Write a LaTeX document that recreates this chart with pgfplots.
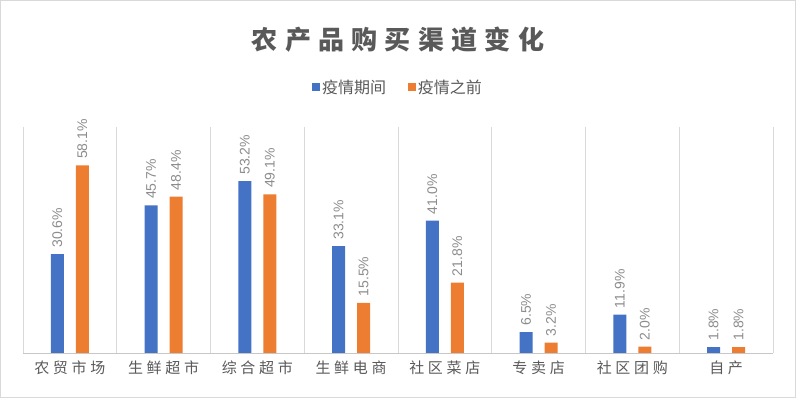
\documentclass[border=0pt]{standalone}
\usepackage{pgfplots}
\pgfplotsset{compat=1.18}
\usepackage{fontspec}
\setmainfont{Noto Sans CJK SC}
\newfontfamily\titlefont[LetterSpace=28]{Noto Sans CJK SC}
\newfontfamily\tickfont[LetterSpace=25]{Noto Sans CJK SC}
\newfontfamily\numfont{Liberation Sans}
\definecolor{cblue}{HTML}{4472C4}
\definecolor{corange}{HTML}{ED7D31}
\definecolor{ctext}{HTML}{595959}
\definecolor{cgrid}{HTML}{D9D9D9}
\definecolor{clabel}{HTML}{8C8C8C}
\begin{document}
\begin{tikzpicture}
\draw[cgrid, line width=1.2bp] (0.6bp,0.6bp) rectangle (795.4bp,397.4bp);
\node[text=ctext, font=\titlefont\bfseries\fontsize{26bp}{30bp}\selectfont] at (398bp,358bp) {农产品购买渠道变化};
\begin{axis}[
  at={(23bp,45bp)}, anchor=south west,
  scale only axis, width=750bp, height=226bp,
  ybar=12bp, bar width=13bp,
  ymin=0, ymax=70,
  xmin=-0.5, xmax=7.5,
  xtick={0,...,7},
  xticklabels={农贸市场,生鲜超市,综合超市,生鲜电商,社区菜店,专卖店,社区团购,自产},
  xticklabel style={font=\tickfont\fontsize{15bp}{18bp}\selectfont, text=ctext, yshift=-4bp},
  major tick length=0pt,
  minor xtick={-0.5,0.5,...,7.5},
  minor tick length=0pt,
  xminorgrids=true,
  minor grid style={cgrid, line width=1bp},
  axis y line=none,
  axis x line*=bottom,
  x axis line style={draw=cgrid!80!gray, line width=1bp, -},
  /pgf/number format/assume math mode=true,
  nodes near coords={\pgfmathprintnumber[fixed,precision=1,fixed zerofill,assume math mode=true]{\pgfplotspointmeta}\%},
  nodes near coords style={font=\numfont\fontsize{14bp}{16bp}\selectfont, text=clabel, rotate=90, anchor=west, xshift=3bp},
  legend columns=2,
  legend style={draw=none, at={(0.5,1)}, anchor=south, yshift=28bp,
    font=\fontsize{16bp}{19bp}\selectfont, text=ctext,
    /tikz/every even column/.append style={column sep=20bp}},
  legend image code/.code={\fill[#1] (0bp,-4bp) rectangle (8bp,4bp);},
]
\addplot[fill=cblue, draw=none] coordinates {(0,30.6) (1,45.7) (2,53.2) (3,33.1) (4,41.0) (5,6.5) (6,11.9) (7,1.8)};
\addplot[fill=corange, draw=none] coordinates {(0,58.1) (1,48.4) (2,49.1) (3,15.5) (4,21.8) (5,3.2) (6,2.0) (7,1.8)};
\legend{疫情期间,疫情之前}
\end{axis}
\end{tikzpicture}
\end{document}
